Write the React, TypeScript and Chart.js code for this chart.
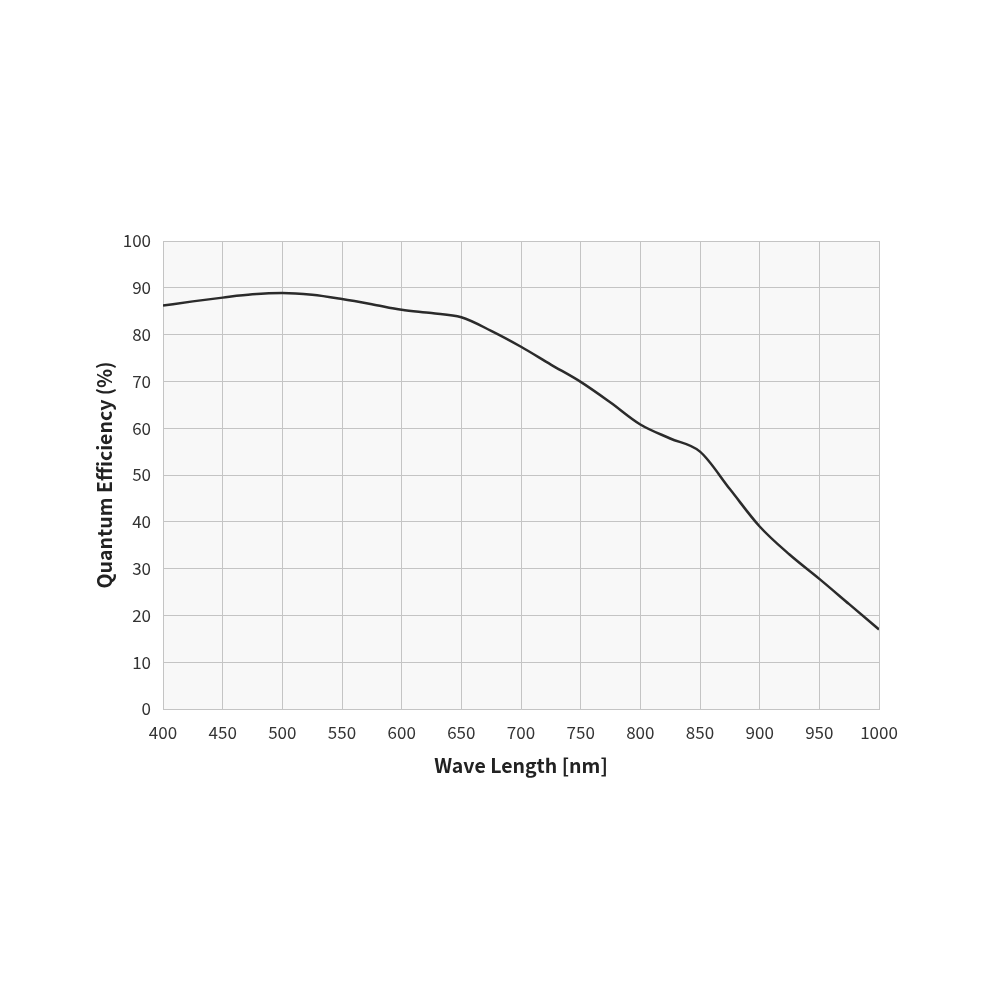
import React, { useEffect, useRef } from "react";
import { Chart, registerables } from "chart.js";

Chart.register(...registerables);

const wavelengths = [400, 425, 450, 475, 500, 525, 550, 575, 600, 625, 650, 675, 700, 725, 750, 775, 800, 825, 850, 875, 900, 925, 950, 975, 1000];
const efficiency = [86.2, 87.1, 87.9, 88.6, 88.9, 88.5, 87.6, 86.5, 85.3, 84.6, 83.7, 80.8, 77.4, 73.6, 69.9, 65.5, 60.8, 57.8, 55.0, 47.0, 39.0, 33.0, 27.8, 22.4, 17.0];
const xTitle = "Wave Length [nm]";
const yTitle = "Quantum Efficiency (%)";

const FONT = "'Noto Sans CJK JP', 'Noto Sans', sans-serif";

const bgPlugin = {
  id: "plotBg",
  beforeDraw(chart: any) {
    const { ctx, chartArea } = chart;
    ctx.save();
    ctx.fillStyle = "#f8f8f8";
    ctx.fillRect(chartArea.left, chartArea.top, chartArea.right - chartArea.left, chartArea.bottom - chartArea.top);
    ctx.restore();
  },
};

export default function App() {
  const ref = useRef<HTMLCanvasElement>(null);
  useEffect(() => {
    document.body.style.margin = "0";
    const chart = new Chart(ref.current!, {
      type: "line",
      data: {
        datasets: [
          {
            data: wavelengths.map((w, i) => ({ x: w, y: efficiency[i] })),
            borderColor: "#2b2b2b",
            borderWidth: 2.5,
            pointRadius: 0,
            cubicInterpolationMode: "monotone",
            fill: false,
          },
        ],
      },
      options: {
        animation: false,
        responsive: false,
        maintainAspectRatio: false,
        layout: { padding: { left: 89, top: 241, right: 121, bottom: 219 } },
        plugins: { legend: { display: false }, tooltip: { enabled: false } },
        scales: {
          x: {
            type: "linear",
            min: 400,
            max: 1000,
            afterFit(scale: any) {
              scale.height = 72;
            },
            ticks: {
              stepSize: 50,
              color: "#333",
              font: { family: FONT, size: 17 },
              padding: 13,
              maxRotation: 0,
              callback: (v: any) => String(v),
            },
            grid: { color: "#c4c4c4", lineWidth: 1, drawTicks: false },
            border: { color: "#c4c4c4" },
            title: { display: true, text: xTitle, color: "#222", font: { family: FONT, size: 19.5, weight: "bold" }, padding: { top: 4, bottom: 4 } },
          },
          y: {
            min: 0,
            max: 100,
            afterFit(scale: any) {
              scale.width = 74;
            },
            ticks: { stepSize: 10, color: "#333", font: { family: FONT, size: 17 }, padding: 12 },
            grid: { color: "#c4c4c4", lineWidth: 1, drawTicks: false },
            border: { color: "#c4c4c4" },
            title: { display: true, text: yTitle, color: "#222", font: { family: FONT, size: 19.5, weight: "bold" }, padding: { top: 4, bottom: 4 } },
          },
        },
      },
      plugins: [bgPlugin],
    } as any);
    return () => chart.destroy();
  }, []);
  return (
    <div style={{ width: 1000, height: 1000, background: "#fff" }}>
      <canvas ref={ref} width={1000} height={1000} style={{ width: 1000, height: 1000, display: "block" }} />
    </div>
  );
}
